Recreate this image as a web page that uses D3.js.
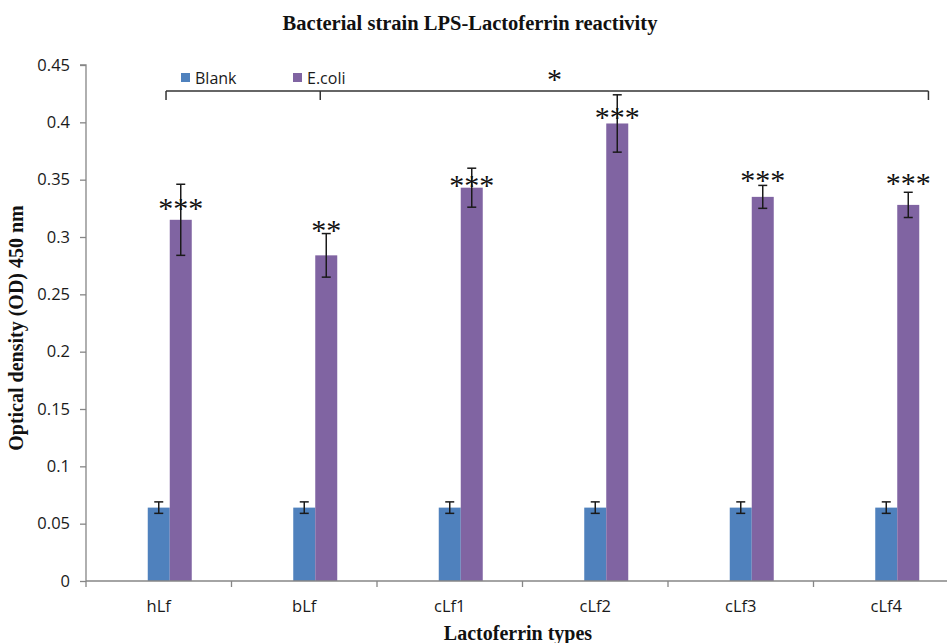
<!DOCTYPE html>
<html><head><meta charset="utf-8">
<script src="https://cdnjs.cloudflare.com/ajax/libs/d3/7.8.5/d3.min.js"></script>
<style>
html,body{margin:0;padding:0;background:#fff;overflow:hidden}
</style></head>
<body><svg id="chart" width="947" height="643"></svg>
<script>
// ---- data ----
const categories = ["hLf", "bLf", "cLf1", "cLf2", "cLf3", "cLf4"];
const seriesNames = ["Blank", "E.coli"];
const blankValues = [0.064, 0.064, 0.064, 0.064, 0.064, 0.064];
const blankErrors = [0.005, 0.005, 0.005, 0.005, 0.005, 0.005];
const ecoliValues = [0.315, 0.284, 0.343, 0.399, 0.335, 0.328];
const ecoliErrors = [0.031, 0.019, 0.017, 0.025, 0.010, 0.011];
const sigLabels = ["***", "**", "***", "***", "***", "***"];
const sigLevels = [0.329, 0.310, 0.349, 0.408, 0.353, 0.351];
const yTicks = [0, 0.05, 0.1, 0.15, 0.2, 0.25, 0.3, 0.35, 0.4, 0.45];
// bracket annotation (category-index units, value units)
const bracketX = [0.55, 1.61, 5.79];
const bracketLevel = 0.4273;
const bracketDrop = 0.4195;
const bracketStar = {pos: 3.22, level: 0.441, label: "*"};

const titleText = "Bacterial strain LPS-Lactoferrin reactivity";
const xTitle = "Lactoferrin types";
const yTitle = "Optical density (OD) 450 nm";

const colors = {"Blank": "#4f81bd", "E.coli": "#8064a2"};

// ---- layout ----
const svg = d3.select("#chart");
const mLeft = 86, mRight = 959, mTop = 65, mBottom = 581;
const axisColor = "#868686";
const sansFont = "'Open Sans', 'DejaVu Sans', sans-serif";
const serifFont = "'Liberation Serif', 'Times New Roman', serif";

svg.append("rect").attr("width", 947).attr("height", 643).attr("fill", "#fff");

const y = d3.scaleLinear().domain([0, 0.45]).range([mBottom, mTop]);
const p = 0.5464;
const x = d3.scaleBand().domain(categories).range([mLeft, mRight])
  .paddingInner(p).paddingOuter(p / 2);
// three slots per group: first is an empty placeholder series
const slots = ["_", ...seriesNames];
const sub = d3.scaleBand().domain(slots).range([0, x.bandwidth()]);
const xi = d3.scaleLinear().domain([0, categories.length]).range([mLeft, mRight]);

// ---- bars ----
const rows = categories.map((c, i) => ({
  cat: c,
  vals: [
    {s: "Blank", v: blankValues[i], e: blankErrors[i]},
    {s: "E.coli", v: ecoliValues[i], e: ecoliErrors[i]}
  ]
}));

const g = svg.append("g");
const groups = g.selectAll("g.grp").data(rows).join("g")
  .attr("transform", d => `translate(${x(d.cat)},0)`);
groups.selectAll("rect").data(d => d.vals).join("rect")
  .attr("x", d => sub(d.s))
  .attr("width", sub.bandwidth())
  .attr("y", d => y(d.v))
  .attr("height", d => y(0) - y(d.v))
  .attr("fill", d => colors[d.s]);

// error bars
const cap = 4.5;
groups.selectAll("g.err").data(d => d.vals).join("g").each(function(d) {
  const cx = sub(d.s) + sub.bandwidth() / 2;
  const s = d3.select(this).attr("stroke", "#1a1a1a").attr("stroke-width", 1.5);
  s.append("line").attr("x1", cx).attr("x2", cx).attr("y1", y(d.v + d.e)).attr("y2", y(d.v - d.e));
  s.append("line").attr("x1", cx - cap).attr("x2", cx + cap).attr("y1", y(d.v + d.e)).attr("y2", y(d.v + d.e));
  s.append("line").attr("x1", cx - cap).attr("x2", cx + cap).attr("y1", y(d.v - d.e)).attr("y2", y(d.v - d.e));
});

// significance stars
const starSize = 30;
svg.append("g").selectAll("text").data(categories).join("text")
  .attr("x", c => x(c) + sub("E.coli") + sub.bandwidth() / 2)
  .attr("y", (c, i) => y(sigLevels[i]) + starSize * 0.47)
  .attr("text-anchor", "middle")
  .attr("font-family", serifFont)
  .attr("font-size", starSize)
  .attr("fill", "#111")
  .text((c, i) => sigLabels[i]);

// ---- axes ----
const yAxis = d3.axisLeft(y).tickValues(yTicks).tickSize(6).tickPadding(10)
  .tickFormat(d => d3.format("")(+d.toFixed(2)));
const ya = svg.append("g").attr("transform", `translate(${mLeft},0)`).call(yAxis);
ya.select(".domain").attr("stroke", axisColor).attr("stroke-width", 1.3).attr("d", `M-6,${mTop}H0V${mBottom}`);
ya.selectAll(".tick line").attr("stroke", axisColor).attr("stroke-width", 1.3);
ya.selectAll(".tick text").attr("font-family", sansFont).attr("font-size", 16.5).attr("fill", "#1a1a1a");

const xAxisG = svg.append("g").attr("transform", `translate(0,${mBottom})`);
xAxisG.append("line").attr("x1", mLeft).attr("x2", mRight).attr("stroke", axisColor).attr("stroke-width", 1.3);
xAxisG.selectAll("line.t").data(d3.range(categories.length + 1)).join("line")
  .attr("x1", i => xi(i)).attr("x2", i => xi(i)).attr("y1", 0).attr("y2", 6)
  .attr("stroke", axisColor).attr("stroke-width", 1.3);
xAxisG.selectAll("text").data(categories).join("text")
  .attr("x", c => x(c) + x.bandwidth() / 2)
  .attr("y", 31)
  .attr("text-anchor", "middle")
  .attr("font-family", sansFont).attr("font-size", 16.5).attr("fill", "#1a1a1a")
  .text(c => c);

// ---- bracket ----
const br = svg.append("g").attr("stroke", "#333").attr("stroke-width", 1.5).attr("fill", "none");
br.append("line").attr("x1", xi(bracketX[0])).attr("x2", xi(bracketX[bracketX.length - 1]))
  .attr("y1", y(bracketLevel)).attr("y2", y(bracketLevel));
br.selectAll("line.d").data(bracketX).join("line")
  .attr("x1", d => xi(d)).attr("x2", d => xi(d))
  .attr("y1", y(bracketLevel)).attr("y2", y(bracketDrop));
svg.append("text").attr("x", xi(bracketStar.pos)).attr("y", y(bracketStar.level) + 30 * 0.47)
  .attr("text-anchor", "middle").attr("font-family", serifFont).attr("font-size", 30).attr("fill", "#111")
  .text(bracketStar.label);

// ---- legend ----
const legX = [181, 293];
const lg = svg.append("g");
seriesNames.forEach((s, i) => {
  lg.append("rect").attr("x", legX[i]).attr("y", 73).attr("width", 9).attr("height", 9).attr("fill", colors[s]);
  lg.append("text").attr("x", legX[i] + 14).attr("y", 83.5)
    .attr("font-family", sansFont).attr("font-size", 16).attr("fill", "#1a1a1a").text(s);
});

// ---- titles ----
svg.append("text").attr("x", 470).attr("y", 30).attr("text-anchor", "middle")
  .attr("font-family", serifFont).attr("font-weight", "bold").attr("font-size", 20.5).attr("fill", "#111")
  .text(titleText);
svg.append("text").attr("x", 518).attr("y", 640).attr("text-anchor", "middle")
  .attr("font-family", serifFont).attr("font-weight", "bold").attr("font-size", 20).attr("fill", "#111")
  .text(xTitle);
svg.append("text").attr("transform", "translate(23,328) rotate(-90)").attr("text-anchor", "middle")
  .attr("font-family", serifFont).attr("font-weight", "bold").attr("font-size", 20).attr("fill", "#111")
  .text(yTitle);
</script></body></html>
